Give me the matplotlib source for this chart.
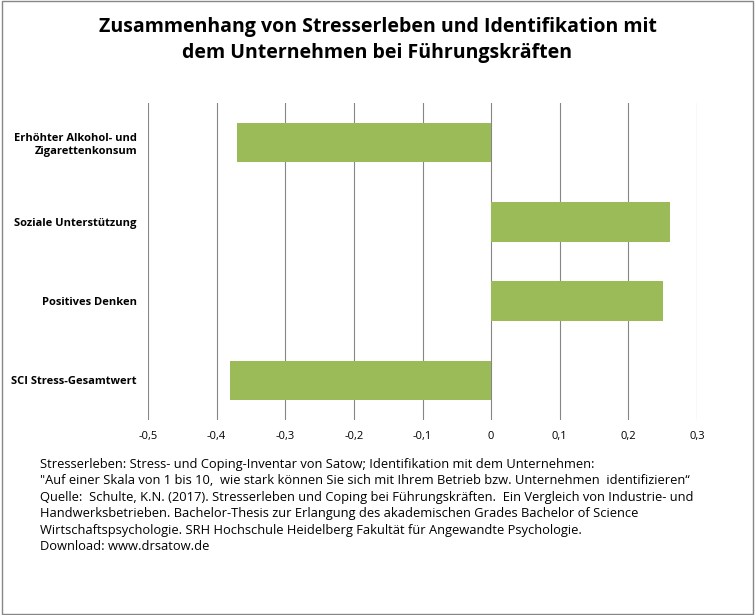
import matplotlib.pyplot as plt
import matplotlib.patches as mpatches

# Daten
kategorien = ["SCI Stress-Gesamtwert", "Positives Denken", "Soziale Unterstützung",
              "Erhöhter Alkohol- und\nZigarettenkonsum"]
werte = [-0.38, 0.25, 0.26, -0.37]
xticks = [-0.5, -0.4, -0.3, -0.2, -0.1, 0, 0.1, 0.2, 0.3]
xtick_labels = ["-0,5", "-0,4", "-0,3", "-0,2", "-0,1", "0", "0,1", "0,2", "0,3"]

plt.rcParams["font.family"] = "Open Sans"

fig = plt.figure(figsize=(7.55, 6.15), dpi=100)
ax = fig.add_axes([148 / 755, 1 - 420 / 615, 549 / 755, 317 / 615])

ax.barh(range(len(kategorien)), werte, height=0.5, color="#9BBB59", zorder=3)
ax.set_xlim(-0.5, 0.3)
ax.set_ylim(-0.5, len(kategorien) - 0.5)
ax.set_xticks(xticks)
ax.set_xticklabels(xtick_labels, fontsize=8)
ax.set_yticks(range(len(kategorien)))
ax.set_yticklabels(kategorien, fontsize=8, fontweight="bold")
ax.tick_params(length=0, pad=8)
ax.grid(axis="x", color="#868686", linewidth=0.8, zorder=0)
for s in ax.spines.values():
    s.set_visible(False)

fig.text(0.5, 1 - 40 / 615,
         "Zusammenhang von Stresserleben und Identifikation mit\ndem Unternehmen bei Führungskräften",
         ha="center", va="center", fontsize=14, fontweight="bold", linespacing=1.4)

fussnote = ("Stresserleben: Stress- und Coping-Inventar von Satow; Identifikation mit dem Unternehmen:\n"
            "\"Auf einer Skala von 1 bis 10,  wie stark können Sie sich mit Ihrem Betrieb bzw. Unternehmen  identifizieren“\n"
            "Quelle:  Schulte, K.N. (2017). Stresserleben und Coping bei Führungskräften.  Ein Vergleich von Industrie- und\n"
            "Handwerksbetrieben. Bachelor-Thesis zur Erlangung des akademischen Grades Bachelor of Science\n"
            "Wirtschaftspsychologie. SRH Hochschule Heidelberg Fakultät für Angewandte Psychologie.\n"
            "Download: www.drsatow.de")
fig.text(40 / 755, 1 - 458 / 615, fussnote, ha="left", va="top", fontsize=9.3, linespacing=1.35)

fig.patches.append(mpatches.Rectangle((0.002, 0.002), 0.996, 0.996, transform=fig.transFigure,
                                      fill=False, edgecolor="#868686", linewidth=1))

fig.savefig("out.png", dpi=100)
